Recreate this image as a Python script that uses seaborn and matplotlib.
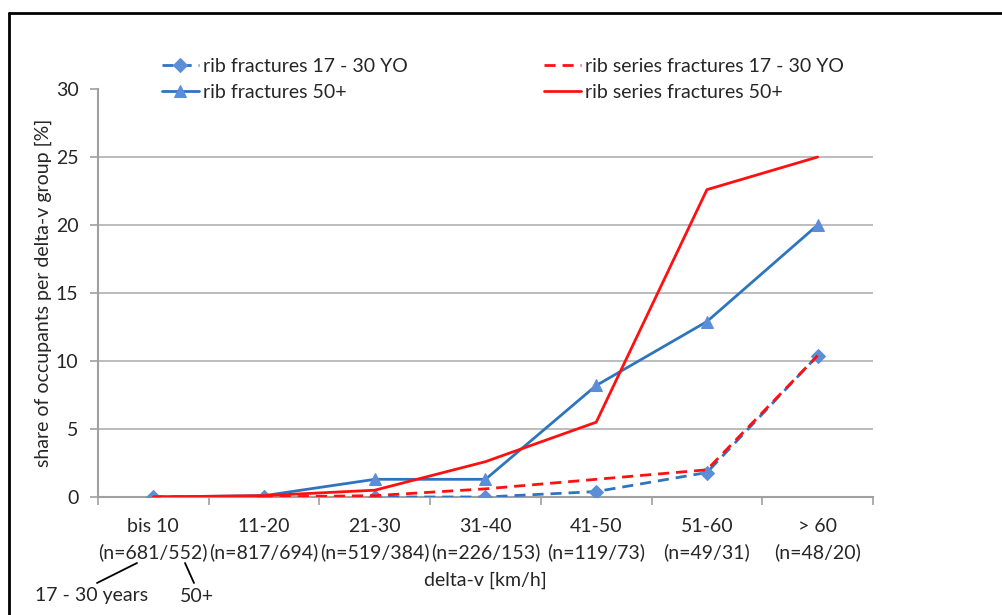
import matplotlib
matplotlib.use("Agg")
import matplotlib.pyplot as plt
import seaborn as sns
import numpy as np
import pandas as pd
from matplotlib.lines import Line2D

categories = ["bis 10", "11-20", "21-30", "31-40", "41-50", "51-60", "> 60"]
counts = ["(n=681/552)", "(n=817/694)", "(n=519/384)", "(n=226/153)", "(n=119/73)", "(n=49/31)", "(n=48/20)"]
rib_frac_young = [0.0, 0.0, 0.0, 0.0, 0.4, 1.8, 10.4]
rib_frac_old = [0.0, 0.1, 1.3, 1.3, 8.2, 12.9, 20.0]
rib_series_young = [0.0, 0.0, 0.1, 0.6, 1.3, 2.0, 10.4]
rib_series_old = [0.0, 0.1, 0.5, 2.6, 5.5, 22.6, 25.0]

sns.set_theme(style="white")
plt.rcParams['font.family'] = ['Lato', 'DejaVu Sans']
FS = 14

fig = plt.figure(figsize=(10.03, 6.15), dpi=100)
ax = fig.add_axes([98/1003, 1-497/615, (873-98)/1003, (497-89)/615])

x = np.arange(len(categories))
blue = "#2E75C0"
mblue = "#5B8ED6"
red = "#FF1010"

sns.lineplot(x=x, y=rib_frac_young, ax=ax, color=blue, lw=2.0, marker="D", markersize=7,
             markerfacecolor=mblue, markeredgecolor=mblue, linestyle=(0, (4, 2.5)),
             label="rib fractures 17 - 30 YO", zorder=3)
sns.lineplot(x=x, y=rib_frac_old, ax=ax, color=blue, lw=2.0, marker="^", markersize=9,
             markerfacecolor=mblue, markeredgecolor=mblue,
             label="rib fractures 50+", zorder=3)
sns.lineplot(x=x, y=rib_series_young, ax=ax, color=red, lw=2.0, linestyle=(0, (4, 2.5)),
             label="rib series fractures 17 - 30 YO", zorder=4)
sns.lineplot(x=x, y=rib_series_old, ax=ax, color=red, lw=2.0,
             label="rib series fractures 50+", zorder=4)

ax.set_xlim(-0.5, len(categories) - 0.5)
ax.set_ylim(0, 30)
ax.set_yticks([0, 5, 10, 15, 20, 25, 30])
ax.set_yticklabels(["0", "5", "10", "15", "20", "25", "30"], fontsize=FS)
ax.set_xticks(x)
ax.set_xticklabels([f"{c}\n{n}" for c, n in zip(categories, counts)], fontsize=FS, linespacing=1.55)
ax.tick_params(axis="x", length=0, pad=15)
ax.set_xticks(np.arange(-0.5, len(categories)), minor=True)
ax.tick_params(axis="x", which="minor", length=6, color="#A0A0A0", width=1.2, direction="out", bottom=True)
ax.tick_params(axis="y", length=6, color="#A0A0A0", width=1.2, direction="out", left=True, pad=8)

ax.grid(axis="y", color="#B0B0B0", lw=1.2)
ax.yaxis.get_gridlines()[-1].set_visible(False)
for s in ["top", "right"]:
    ax.spines[s].set_visible(False)
for s in ["left", "bottom"]:
    ax.spines[s].set_color("#A0A0A0")
    ax.spines[s].set_linewidth(1.5)

ax.set_xlabel("delta-v [km/h]", fontsize=FS, labelpad=8)
ax.set_ylabel("share of occupants per delta-v group [%]", fontsize=FS, labelpad=3)

handles, labels = ax.get_legend_handles_labels()
leg = ax.legend(handles, labels, ncol=2, loc="upper left", frameon=False, fontsize=FS,
                handlelength=1.9, handletextpad=0.2, columnspacing=7.0, labelspacing=0.45,
                borderpad=0, borderaxespad=0)
leg.set_bbox_to_anchor((162/1003, 1 - 58/615), transform=fig.transFigure)

fig.text(35/1003, 1 - 595/615, "17 - 30 years", fontsize=FS, ha="left", va="center")
fig.text(180/1003, 1 - 597/615, "50+", fontsize=FS, ha="left", va="center")
fig.add_artist(Line2D([137/1003, 97/1003], [1 - 563/615, 1 - 583/615], color="black", lw=1.3))
fig.add_artist(Line2D([185/1003, 194/1003], [1 - 563/615, 1 - 583/615], color="black", lw=1.3))

# outer frame lines (left and top)
fig.add_artist(Line2D([9/1003, 9/1003], [0, 1 - 13/615], color="black", lw=2))
fig.add_artist(Line2D([9/1003, 1], [1 - 13/615, 1 - 13/615], color="black", lw=2))

fig.savefig("out.png", dpi=100)
